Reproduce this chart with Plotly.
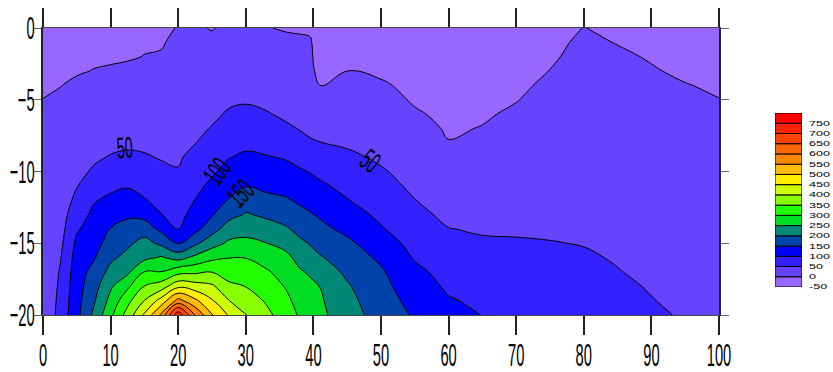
import plotly.graph_objects as go

# ---------------- data ----------------
distance = [0, 2.5, 5, 7.5, 10, 12.5, 15, 17.5, 20, 22.5, 25, 27.5, 30, 33, 36,
            38, 39.5, 41, 45, 50, 55, 60, 65, 70, 75, 80, 85, 90, 95, 100]
depth = [0, -1, -2, -3, -4, -5, -6, -7, -8, -9, -10, -11, -12, -13, -14, -15,
         -16, -17, -18, -19, -20]

# value profiles, one per distance, listed from depth 0 down to depth -20
p_000 = [-14, -11, -8, -5.5, -3, 0.3, 2, 3.5, 4.5, 5, 5, 5, 5, 5, 5, 5, 5, 5, 5, 5, 4]
p_025 = [-12, -9, -6, -3, -0.5, 3, 6, 9, 12, 15, 18, 21, 24, 27, 31, 37, 45, 53, 58, 63, 68]
p_050 = [-10, -7, -4, -1.5, 3, 8, 14, 20, 27, 34, 41, 48, 61, 78, 95, 110, 120, 126, 130, 133, 136]
p_075 = [-8, -5, -2.5, 0.5, 7, 15, 22, 29, 37, 45, 54, 74, 96, 110, 120, 130, 145, 165, 180, 193, 210]
p_100 = [-7, -4, -2.5, 2, 10, 18, 25, 33, 42, 52, 71, 89, 110, 130, 151, 170, 190, 215, 243, 265, 288]
p_125 = [-6, -3.5, -2, 4.5, 12, 20, 28, 36, 45, 55, 76, 96, 120, 143, 165, 190, 215, 240, 290, 335, 370]
p_150 = [-5, -2.5, 0.5, 6, 12, 19, 26, 33, 41, 54, 70, 86, 103, 135, 174, 218, 238, 301, 351, 401, 458]
p_175 = [-4, -2, 2, 10, 16, 23, 29, 36, 42, 47, 60, 74, 87, 101, 138, 189, 255, 301, 375, 470, 561]
p_200 = [1, 6, 11, 16, 20, 25, 30, 35, 40, 46, 52, 62, 72, 85, 99, 145, 233, 333, 438, 567, 740]
p_225 = [5, 10, 15, 20, 25, 30, 36, 42, 49, 60, 72, 84, 101, 117, 135, 190, 262, 340, 423, 511, 598]
p_250 = [-2, 8, 16, 23, 29, 36, 43, 52, 63, 75, 92, 113, 132, 146, 180, 230, 288, 349, 408, 455, 503]
p_275 = [8, 15, 23, 30, 37, 44, 54, 70, 85, 98, 118, 135, 152, 183, 223, 258, 299, 325, 362, 401, 445]
p_300 = [10, 17, 25, 32, 39, 46, 59, 73, 89, 108, 128, 148, 175, 204, 232, 262, 299, 320, 349, 375, 402]
p_330 = [1, 8, 16, 24, 32, 41, 53, 66, 82, 103, 121, 138, 164, 192, 220, 251, 280, 306, 325, 345, 364]
p_360 = [-2, 5, 12, 19, 26, 34, 43, 56, 70, 96, 114, 132, 155, 178, 205, 232, 263, 280, 296, 310, 322]
p_380 = [-3, 4, 10, 16, 22, 29, 36, 48, 63, 82, 106, 124, 142, 164, 185, 210, 232, 256, 271, 283, 294]
p_395 = [-3, 2, 3, 4, 6, 12, 22, 36, 58, 78, 98, 116, 134, 154, 176, 197, 218, 243, 262, 273, 283]
p_410 = [-12, -10, -8, -5, -0.5, 8, 18, 30, 51, 70, 88, 108, 124, 144, 162, 182, 204, 226, 249, 256, 261]
p_450 = [-15, -11, -6, 0.5, 6, 12, 20, 30, 43, 60, 73, 86, 102, 120, 138, 160, 176, 191, 205, 214, 221]
p_500 = [-16, -12, -8, -4, 3, 10, 18, 25, 33, 42, 55, 66, 78, 90, 104, 122, 141, 156, 164, 172, 179]
p_550 = [-18, -15, -12, -9, -6, -3, 3, 10, 17, 24, 32, 41, 51, 62, 73, 85, 96, 111, 123, 134, 144]
p_600 = [-20, -18, -16, -14, -12, -9, -6, -3, 1, 8, 15, 22, 30, 40, 51, 62, 73, 84, 93, 104, 118]
p_650 = [-18, -16, -14, -12, -10, -7, -3, 1, 6, 12, 18, 24, 31, 38, 46, 55, 65, 74, 83, 91, 99]
p_700 = [-15, -13, -11, -8, -5, -1, 4, 9, 14, 19, 24, 29, 34, 40, 46, 53, 61, 68, 75, 83, 90]
p_750 = [-10, -7, -4, 0.5, 5, 9, 13, 17, 21, 25, 29, 33, 37, 41, 46, 51, 57, 63, 69, 75, 81]
p_800 = [0.5, 5, 9, 13, 17, 20, 23, 26, 29, 32, 35, 38, 41, 44, 47, 49, 53, 57, 62, 67, 72]
p_850 = [-5, -1, 4, 8, 12, 15, 18, 21, 24, 27, 30, 33, 36, 39, 42, 45, 48, 51, 55, 59, 64]
p_900 = [-9, -6, -2, 2, 6, 10, 13, 16, 19, 22, 25, 28, 31, 34, 37, 40, 43, 45, 48, 51, 55]
p_950 = [-13, -10, -7, -4, 1, 5, 9, 12, 15, 18, 21, 24, 27, 30, 33, 35, 37, 39, 42, 44, 47]
p_1000 = [-16, -13, -10, -7, -3.5, 0.5, 4, 7, 10, 13, 16, 19, 22, 25, 27, 29, 31, 33, 35, 38, 40]

profiles = [p_000, p_025, p_050, p_075, p_100, p_125, p_150, p_175, p_200, p_225,
            p_250, p_275, p_300, p_330, p_360, p_380, p_395, p_410, p_450, p_500,
            p_550, p_600, p_650, p_700, p_750, p_800, p_850, p_900, p_950, p_1000]

# colour bands: edges of each band and its colour
band_edges = [-50, 0, 50, 100, 150, 200, 250, 300, 350, 400, 450, 500, 550, 600,
              650, 700, 750, 800]
band_colors = ["#9966ff", "#6644ff", "#3322ff", "#0000ff", "#0044aa", "#008877",
               "#00dd22", "#22ff00", "#88ff00", "#ccff00", "#ffee00", "#ffbb00",
               "#ff8800", "#ff6600", "#ff4400", "#ff2200", "#ff0000"]
cbar_labels = ["-50", "0", "50", "100", "150", "200", "250", "300", "350", "400",
               "450", "500", "550", "600", "650", "700", "750"]

x_ticks = [0, 10, 20, 30, 40, 50, 60, 70, 80, 90, 100]
y_ticks = [0, -5, -10, -15, -20]

# contour line labels: (text, distance, depth, angle)
line_labels = [("50", 12.1, -8.3, -4), ("100", 25.7, -10.0, -54),
               ("150", 29.1, -11.5, -45), ("50", 48.4, -9.2, 36)]

# ---------------- figure ----------------
lvl_start, lvl_end, lvl_step = 0, 750, 50
n_levels = (lvl_end - lvl_start) // lvl_step + 1          # 16 contour levels
fill_colors = band_colors[:n_levels + 1]                   # 17 fill bands
colorscale = [[j / n_levels, c] for j, c in enumerate(fill_colors)]

FAM = "Liberation Sans, Arial, sans-serif"
AXFONT = dict(family=FAM, size=32, color="black")

fig = go.Figure()
fig.add_trace(go.Contour(
    x=distance, y=depth, z=profiles, transpose=True,
    autocontour=False,
    contours=dict(start=lvl_start, end=lvl_end, size=lvl_step, coloring="fill",
                  showlabels=False),
    colorscale=colorscale, showscale=False,
    line=dict(color="black", width=1, smoothing=1.2),
    hoverinfo="skip",
))

heights = [b - a for a, b in zip(band_edges[:-1], band_edges[1:])]
fig.add_trace(go.Bar(
    x=[0] * len(heights), y=heights, base=band_edges[:-1], width=1,
    marker=dict(color=band_colors, line=dict(color="black", width=1)),
    xaxis="x2", yaxis="y2", showlegend=False, hoverinfo="skip",
))

W, H = 833, 372
ml, mr, mt, mb = 43, 0, 28, 57
pw, ph = W - ml - mr, H - mt - mb
main_w = 676

for txt, xd, yd, ang in line_labels:
    fig.add_annotation(x=xd, y=yd, xref="x", yref="y", text=txt, showarrow=False,
                       textangle=ang, font=dict(family=FAM, size=30, color="black"))

fig.update_layout(
    width=W, height=H,
    margin=dict(l=ml, r=mr, t=mt, b=mb, pad=0, autoexpand=False),
    paper_bgcolor="white", plot_bgcolor="white",
    barmode="overlay", showlegend=False,
    xaxis=dict(domain=[0, main_w / pw], range=[0, 100], tickvals=x_ticks,
               ticks="outside", ticklen=19, tickwidth=2, tickcolor="#222",
               showline=True, linecolor="#444", linewidth=1, mirror="ticks",
               showgrid=False, zeroline=False, tickfont=AXFONT, automargin=False,
               ticklabelstandoff=-7),
    yaxis=dict(domain=[0, 1], range=[-20, 0], tickvals=y_ticks,
               ticks="outside", ticklen=8, tickwidth=1, tickcolor="#666",
               showline=True, linecolor="#222", linewidth=2, mirror="ticks",
               showgrid=False, zeroline=False, tickfont=AXFONT, automargin=False,
               ticklabelstandoff=-8),
    xaxis2=dict(domain=[(775 - ml) / pw, (802 - ml) / pw], range=[-0.5, 0.5],
                visible=False, anchor="y2", fixedrange=True),
    yaxis2=dict(domain=[(H - mb - 287) / ph, (H - mb - 113) / ph],
                range=[band_edges[0], band_edges[-1]], anchor="x2", side="right",
                tickvals=band_edges[:-1], ticktext=cbar_labels, ticks="",
                showgrid=False, zeroline=False, showline=False, automargin=False,
                ticklabelstandoff=6,
                tickfont=dict(family=FAM, size=7, color="black")),
)

# page without body margin; narrow the axis / contour labels and widen the
# colour-bar labels like the original
post = """
document.body.style.margin = '0';
document.body.style.padding = '0';
document.body.style.overflow = 'hidden';
var gd = document.getElementById('{plot_id}');
function squashText() {
  var specs = [['.xtick text', 0.46], ['.ytick text', 0.46],
               ['.annotation-text', 0.48], ['.y2tick text', 1.8]];
  specs.forEach(function (sp) {
    gd.querySelectorAll(sp[0]).forEach(function (t) {
      var cur = t.getAttribute('transform') || '';
      if (t.__sqT !== undefined && t.__sqT === cur) return;
      var x = parseFloat(t.getAttribute('x')) || 0;
      var y = parseFloat(t.getAttribute('y')) || 0;
      var nt = cur + ' translate(' + x + ',' + y + ') scale(' + sp[1] + ',1) translate(' + (-x) + ',' + (-y) + ')';
      t.setAttribute('transform', nt);
      t.__sqT = nt;
    });
  });
}
squashText();
gd.on('plotly_afterplot', squashText);
"""

fig.write_html("out.html", post_script=post, config={"displayModeBar": False})
